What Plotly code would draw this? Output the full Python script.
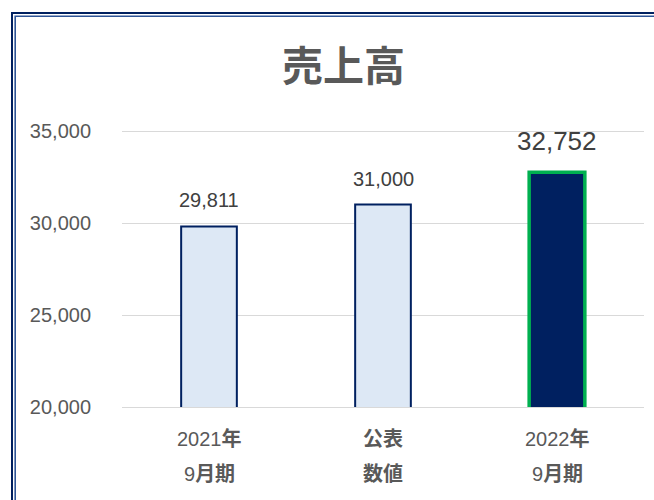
import plotly.graph_objects as go

categories = ["2021年9月期", "公表数値", "2022年9月期"]
label_line1 = ["2021<b>年</b>", "<b>公表</b>", "2022<b>年</b>"]
label_line2 = ["9<b>月期</b>", "<b>数値</b>", "9<b>月期</b>"]
values = [29811, 31000, 32752]
value_labels = ["29,811", "31,000", "32,752"]
label_sizes = [20, 20, 26]
label_shift = [13, 13, 14]
fill_colors = ["#DDE8F5", "#DDE8F5", "#002060"]
line_colors = ["#002060", "#002060", "#00B050"]
line_widths = [2, 2, 3.5]
y_ticks = [20000, 25000, 30000, 35000]

W, H = 654, 500
L, R, T, B = 122, 10, 129, 93
pw, ph = W - L - R, H - T - B
pad_units = 2 / (276 / 15000)

def px(xp):
    return (xp - L) / pw

def py(yp):
    return (H - B - yp) / ph

font_fam = "Liberation Sans, Arial, Noto Sans CJK JP, sans-serif"
grey = "#595959"

fig = go.Figure()
fig.add_trace(go.Bar(
    x=categories, y=values, width=0.32,
    marker=dict(color=fill_colors, line=dict(color=line_colors, width=line_widths)),
    hoverinfo="skip",
))

annotations = []
for c, v, t, s, sh in zip(categories, values, value_labels, label_sizes, label_shift):
    annotations.append(dict(x=c, y=v, xref="x", yref="y", text=t, showarrow=False,
                            yanchor="bottom", yshift=sh,
                            font=dict(size=s, color="#404040", family=font_fam)))
for c, l1, l2 in zip(categories, label_line1, label_line2):
    annotations.append(dict(x=c, y=py(439), xref="x", yref="paper", text=l1, showarrow=False,
                            yanchor="middle", font=dict(size=20, color=grey, family=font_fam)))
    annotations.append(dict(x=c, y=py(474), xref="x", yref="paper", text=l2, showarrow=False,
                            yanchor="middle", font=dict(size=20, color=grey, family=font_fam)))
annotations.append(dict(x=px(343), y=py(63), xref="paper", yref="paper", text="<b>売上高</b>",
                        showarrow=False, xanchor="center", yanchor="middle",
                        font=dict(size=41, color=grey, family="Noto Sans CJK JP, sans-serif")))

shapes = [
    dict(type="rect", xref="paper", yref="paper", x0=px(12), y0=py(13), x1=px(720), y1=py(560),
         line=dict(color="#002060", width=2), layer="above"),
    dict(type="rect", xref="paper", yref="paper", x0=px(15.2), y0=py(16.2), x1=px(717), y1=py(557),
         line=dict(color="#2F5597", width=1.6), layer="above"),
]

fig.update_layout(
    width=W, height=H,
    margin=dict(l=L, r=R, t=T, b=B, pad=0),
    paper_bgcolor="white", plot_bgcolor="white",
    showlegend=False,
    annotations=annotations,
    shapes=shapes,
    xaxis=dict(showticklabels=False, showgrid=False, zeroline=False,
               showline=True, linecolor="#D9D9D9", linewidth=1, ticks=""),
    yaxis=dict(range=[20000, 35000 + pad_units], tickvals=y_ticks,
               ticktext=[f"{v:,}" for v in y_ticks],
               showgrid=True, gridcolor="#D9D9D9", gridwidth=1, zeroline=False, showline=False,
               ticks="outside", ticklen=26, tickcolor="rgba(0,0,0,0)",
               tickfont=dict(size=20, color=grey, family=font_fam)),
)

fig.write_html("out.html")
